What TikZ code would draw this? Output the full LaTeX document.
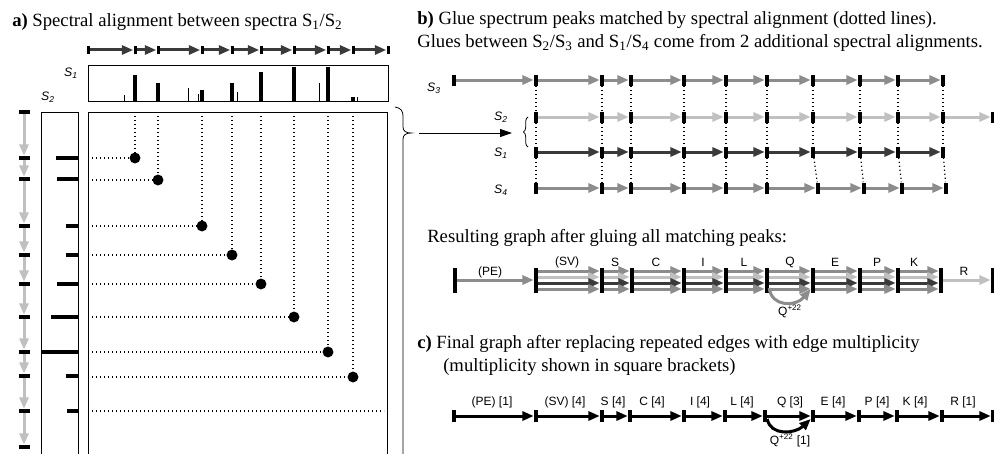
\documentclass[tikz,border=0pt]{standalone}
\usepackage{fontspec}
\setmainfont{Liberation Serif}
\setsansfont{Liberation Sans}
\usetikzlibrary{arrows.meta,calc,decorations.pathreplacing}
\definecolor{sone}{HTML}{3A3A3A}
\definecolor{stwo}{HTML}{C0C0C0}
\definecolor{sthree}{HTML}{8C8C8C}
\definecolor{sfour}{HTML}{8C8C8C}

\begin{document}
\begin{tikzpicture}[x=0.75pt,y=-0.75pt,
  title/.style={anchor=base west, inner sep=0pt, font=\fontsize{14pt}{17pt}\selectfont},
  slabel/.style={inner sep=0pt, font=\sffamily\itshape\fontsize{9.2pt}{11pt}\selectfont},
  elabel/.style={inner sep=0pt, font=\sffamily\fontsize{9pt}{11pt}\selectfont},
  abar/.style={rectangle, fill=black, inner sep=0pt, minimum width=2.25pt, minimum height=6pt},
  lbar/.style={rectangle, fill=black, inner sep=0pt, minimum width=8.25pt, minimum height=3pt},
  bbar/.style={rectangle, fill=black, inner sep=0pt, minimum width=3pt, minimum height=8.25pt},
  gbar/.style={rectangle, fill=black, inner sep=0pt, minimum width=3pt, minimum height=18.75pt},
  cbar/.style={rectangle, fill=black, inner sep=0pt, minimum width=3pt, minimum height=9pt},
  sarrow/.style={draw=#1, line width=2.25pt, -{Triangle[length=8.5pt,width=6.75pt]}},
  dotline/.style={line width=0.9pt, dash pattern=on 0.9pt off 2.1pt},
  bigdot/.style={circle, fill=black, inner sep=0pt, minimum size=8.2pt},
  frame/.style={line width=0.75pt},
]
\useasboundingbox (0,0) rectangle (994,453);

% ================= a) spectral alignment =================
\node[title] (tta) at (12,27) {\textbf{a)} Spectral alignment between spectra S\textsubscript{1}/S\textsubscript{2}};

% spectrum S1 as a path of peaks
\foreach \x [count=\i] in {88,135,158,202,232,261,294,328,353,388}
  \node[abar] (ta\i) at (\x,50) {};
\foreach \i [count=\j from 2] in {1,...,9}
  \draw[sarrow=sone] (ta\i) -- (ta\j);

% S1 peak box
\draw[frame] (88,66) rectangle (388,101);
\node[slabel] (lsa1) at (71,73) {S\textsubscript{1}};
\node[slabel] (lsa2) at (48,97) {S\textsubscript{2}};
\foreach \x/\t/\w in {124/95/0.75pt,135/75/2.4pt,158/83/2.4pt,188/88/0.75pt,198/94/0.75pt,
    202/90/2.4pt,232/83/2.4pt,237/92/0.75pt,261/72/2.4pt,294/67/3pt,319/83/0.75pt,
    328/67/3pt,353/97/2.4pt,357/97/0.75pt}
  \draw[line width=\w] (\x,101) -- (\x,\t);

% S2 peak box and alignment matrix
\draw[frame] (41,112) rectangle (78,470);
\draw[frame] (88,112) rectangle (387,470);
\foreach \y/\l in {158/56,179/57,226/66,255/66,284/57,317/51,352/41,376/66,411/67}
  \draw[line width=2.4pt] (78,\y) -- (\l,\y);

% spectrum S2 as a path of peaks
\foreach \y [count=\i] in {112,158,179,226,255,284,317,352,376,411,447}
  \node[lbar] (la\i) at (24,\y) {};
\foreach \i [count=\j from 2] in {1,...,10}
  \draw[sarrow=stwo] (la\i) -- (la\j);

% matched peaks
\foreach \x/\y [count=\i] in {135/158,158/180,202/226,232/255,261/284,294/317,328/352,353/377} {
  \node[bigdot] (d\i) at (\x,\y) {};
  \coordinate (dt\i) at (\x,112);
  \coordinate (dl\i) at (88,\y);
  \draw[dotline] (dt\i) -- (d\i);
  \draw[dotline] (dl\i) -- (d\i);
}
\coordinate (el) at (88,411);
\coordinate (er) at (384,411);
\draw[dotline] (el) -- (er);

% brace and arrow leading to b)
\coordinate (bracetip) at (411,133);
\draw[line width=0.6pt] (395,107) .. controls (401,108) and (403,111) .. (403,116)
  -- (403,127) .. controls (403,131) and (406,133) .. (bracetip)
  .. controls (406,133) and (403,135) .. (403,139) -- (403,470);
\coordinate (arrowstart) at (419,133);
\coordinate (arrowend) at (512,133);
\draw[line width=0.75pt, -{Triangle[length=9pt,width=6pt]}] (arrowstart) -- (arrowend);

% ================= b) glued spectra =================
\node[title] (ttb1) at (417,25) {\textbf{b)} Glue spectrum peaks matched by spectral alignment (dotted lines).};
\node[title] (ttb2) at (417,48) {Glues between S\textsubscript{2}/S\textsubscript{3} and S\textsubscript{1}/S\textsubscript{4} come from 2 additional spectral alignments.};

\node[slabel] (lb3) at (434,88) {S\textsubscript{3}};
\node[slabel] (lb2) at (501,117) {S\textsubscript{2}};
\node[slabel] (lb1) at (501,153) {S\textsubscript{1}};
\node[slabel] (lb4) at (501,190) {S\textsubscript{4}};

\foreach \x [count=\i] in {454,536,602,631,684,726,767,813,860,898,943}
  \node[bbar] (rthree-\i) at (\x,80) {};
\foreach \x [count=\i] in {536,602,631,684,726,767,813,860,898,943,993}
  \node[bbar] (rtwo-\i) at (\x,117) {};
\foreach \x [count=\i] in {536,602,631,684,726,767,813,860,898,943}
  \node[bbar] (rone-\i) at (\x,152) {};
\foreach \x [count=\i] in {536,602,631,684,726,767,818,864,902,946}
  \node[bbar] (rfour-\i) at (\x,188) {};

\foreach \i [count=\j from 2] in {1,...,10} {
  \draw[sarrow=sthree] (rthree-\i) -- (rthree-\j);
  \draw[sarrow=stwo] (rtwo-\i) -- (rtwo-\j);
}
\foreach \i [count=\j from 2] in {1,...,9} {
  \draw[sarrow=sone] (rone-\i) -- (rone-\j);
  \draw[sarrow=sfour] (rfour-\i) -- (rfour-\j);
}
\foreach \i [count=\j from 2] in {1,...,10} {
  \draw[dotline] (rthree-\j) -- (rtwo-\i);
  \draw[dotline] (rtwo-\i) -- (rone-\i);
  \draw[dotline] (rone-\i) -- (rfour-\i);
}
\draw[decorate, decoration={brace,amplitude=3.5pt}, line width=0.6pt] (528,147) -- (528,117);

% ================= resulting glued graph =================
\node[title] (ttr) at (427,242) {Resulting graph after gluing all matching peaks:};

\foreach \x [count=\i] in {455,536,602,632,684,726,767,813,860,898,941,993}
  \node[gbar] (g\i) at (\x,280) {};
\draw[sarrow=sthree] (g1) -- (g2);
\foreach \i [count=\j from 3] in {2,...,10} {
  \draw[sarrow=sthree] ($(g\i.east)+(0,-9)$) -- ($(g\j.west)+(0,-9)$);
  \draw[sarrow=stwo]   ($(g\i.east)+(0,-3)$) -- ($(g\j.west)+(0,-3)$);
  \draw[sarrow=sone]   ($(g\i.east)+(0,3)$)  -- ($(g\j.west)+(0,3)$);
  \draw[sarrow=sfour]  ($(g\i.east)+(0,9)$)  -- ($(g\j.west)+(0,9)$);
}
\draw[sarrow=stwo] (g11) -- (g12);
\draw[sarrow=sthree] ($(g7.east)+(0,8)$) .. controls +(2,19) and +(-15,18) .. ($(g8.west)+(0,9)$);
\node[elabel] (lq) at (790,311) {Q\textsuperscript{+22}};

\node[elabel] (lpe) at (490,272) {(PE)};
\foreach \x/\t [count=\i] in {567/(SV),615/S,656/C,703/I,744/L,790/Q,835/E,877/P,914/K}
  \node[elabel] (lg\i) at (\x,262) {\t};
\node[elabel] (lr) at (964,271) {R};

% ================= c) graph with multiplicities =================
\node[title] (ttc1) at (417,348) {\textbf{c)} Final graph after replacing repeated edges with edge multiplicity};
\node[title] (ttc2) at (443,371) {(multiplicity shown in square brackets)};

\foreach \x [count=\i] in {454,536,602,630,684,725,765,813,859,897,942,993}
  \node[cbar] (c\i) at (\x,416) {};
\foreach \i [count=\j from 2] in {1,...,11}
  \draw[sarrow=black] (c\i) -- (c\j);
\draw[sarrow=black] ($(c7.east)+(0,3)$) .. controls +(3,17) and +(-16,15) .. ($(c8.west)+(0,3)$);
\node[elabel] (lcq) at (790,440) {Q\textsuperscript{+22} [1]};

\foreach \x/\t [count=\i] in {492/{(PE) [1]},565/{(SV) [4]},613/{S [4]},652/{C [4]},700/{I [4]},
    742/{L [4]},790/{Q [3]},833/{E [4]},877/{P [4]},915/{K [4]},963/{R [1]}}
  \node[elabel] (lc\i) at (\x,402) {\t};

\end{tikzpicture}
\end{document}
